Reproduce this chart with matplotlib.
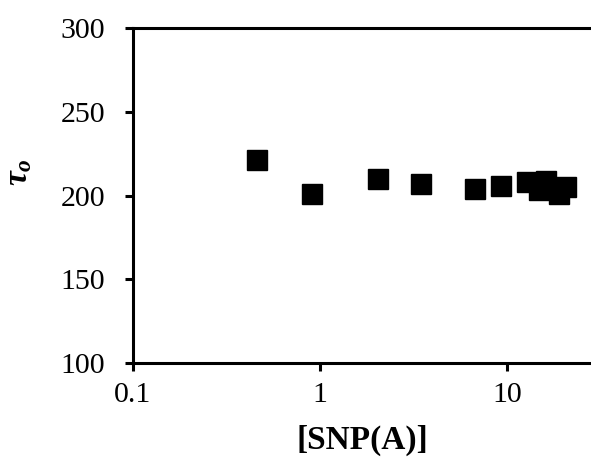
import matplotlib
matplotlib.use("Agg")
import matplotlib.pyplot as plt

plt.rcParams["font.family"] = ["Liberation Serif", "DejaVu Serif"]
plt.rcParams["mathtext.fontset"] = "custom"
plt.rcParams["mathtext.it"] = "Liberation Serif:italic:bold"
plt.rcParams["mathtext.rm"] = "Liberation Serif:bold"

# SNP(A) concentration vs tau_o
snp = [0.46, 0.90, 2.03, 3.47, 6.68, 9.25, 12.8, 14.8, 16.0, 19.0, 20.6]
tau = [221.4, 200.8, 209.7, 206.7, 204.0, 205.6, 207.8, 203.5, 208.5, 200.8, 205.3]

xticks = [0.1, 1, 10]
xticklabels = ["0.1", "1", "10"]
yticks = [100, 150, 200, 250, 300]

fig = plt.figure(figsize=(5.91, 4.63), dpi=100)
ax = fig.add_axes([0.225, 0.216, 0.775, 0.7235])

ax.plot(snp, tau, "s", color="black", ms=14, mec="black")

ax.set_xscale("log")
ax.set_xlim(0.1, 28)
ax.set_ylim(100, 300)
ax.set_xticks(xticks)
ax.set_xticklabels(xticklabels)
ax.minorticks_off()
ax.set_yticks(yticks)

for side in ["left", "bottom", "top"]:
    ax.spines[side].set_linewidth(2.2)
ax.spines["right"].set_visible(False)

ax.tick_params(direction="out", length=6, width=2.2, labelsize=21.5)
ax.tick_params(axis="x", top=False, pad=8)
ax.tick_params(axis="y", pad=14)

ax.set_xlabel("[SNP(A)]", fontsize=24, fontweight="bold", labelpad=12)
ax.set_ylabel(r"$\tau_o$", fontsize=24)
# label sits a bit above the middle of the axis
ax.yaxis.set_label_coords(-0.215, 0.57)

fig.savefig("out.png", dpi=100)
